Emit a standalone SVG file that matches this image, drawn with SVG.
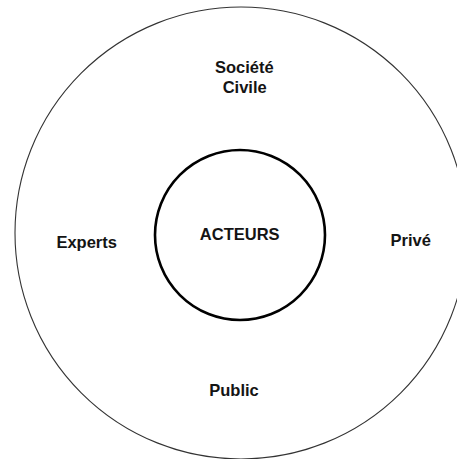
<svg xmlns="http://www.w3.org/2000/svg" width="457" height="459" viewBox="0 0 457 459">
<style>
.lbl{font-family:"Liberation Sans",Arial,sans-serif;font-weight:bold;font-size:16.5px;fill:#141414;text-anchor:middle}
.outer{fill:none;stroke:#333;stroke-width:1.1}
.inner{fill:none;stroke:#000;stroke-width:2.6}
</style>
<rect width="457" height="459" fill="#fff"/>
<g id="outer-ring">
<circle class="outer" cx="241" cy="233" r="226"/>
</g>
<g id="acteurs">
<circle class="inner" cx="240" cy="235" r="85"/>
<text class="lbl" x="239.7" y="240">ACTEURS</text>
</g>
<g id="societe-civile">
<text class="lbl" x="244.3" y="72.7">Société</text>
<text class="lbl" x="244.7" y="93.3">Civile</text>
</g>
<g id="experts">
<text class="lbl" x="86.7" y="248">Experts</text>
</g>
<g id="prive">
<text class="lbl" x="410.7" y="246">Privé</text>
</g>
<g id="public">
<text class="lbl" x="234" y="396">Public</text>
</g>
<g id="connectors"></g>
</svg>
